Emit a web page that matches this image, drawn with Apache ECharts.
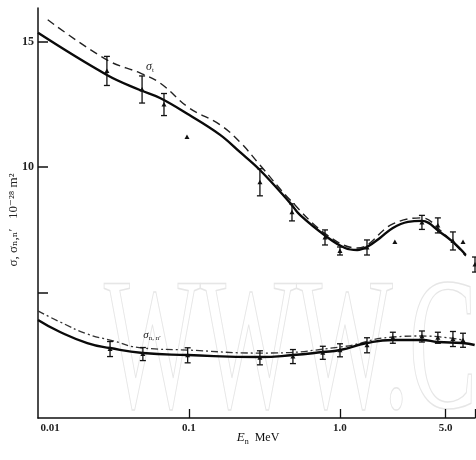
<!DOCTYPE html>
<html>
<head>
<meta charset="utf-8">
<script src="https://cdn.jsdelivr.net/npm/echarts@6/dist/echarts.min.js"></script>
<style>
  html, body { margin: 0; padding: 0; background: #fff; }
  #chart { width: 476px; height: 460px; }
</style>
</head>
<body>
<div id="chart"></div>
<script>
// Energy axis ticks (MeV) and their printed labels
const tickEnergies = [0.01, 0.1, 1.0, 5.0];
const tickLabels = ['0.01', '0.1', '1.0', '5.0'];
const axisEndEnergy = 7.84;

// Cross-section axis ticks (10^-28 m^2)
const yTicks = [5, 10, 15];
const yLabels = { 10: '10', 15: '15' };

// Calculated total cross section sigma_t (solid)
const totalCalcE = [0.01, 0.0286, 0.0473, 0.0643, 0.10, 0.16, 0.218, 0.295, 0.467, 0.543, 0.82, 1.08, 1.30, 1.51, 1.84, 2.24, 2.82, 3.49, 4.59, 5.6, 6.82];
const totalCalc  = [15.36, 13.68, 13.08, 12.76, 12.09, 11.30, 10.60, 9.89, 8.58, 8.10, 7.22, 6.78, 6.70, 6.82, 7.18, 7.58, 7.82, 7.86, 7.42, 7.02, 6.50];

// Alternative calculation of sigma_t (dashed)
const totalAltE = [0.0116, 0.0286, 0.0473, 0.0643, 0.10, 0.16, 0.218, 0.295, 0.467, 0.82, 1.30, 2.24, 3.49, 4.59, 6.82];
const totalAlt  = [15.88, 14.28, 13.76, 13.36, 12.37, 11.70, 11.00, 10.09, 8.70, 7.30, 6.78, 7.74, 7.98, 7.50, 6.46];

// Calculated sigma_n,n' (solid)
const elasCalcE = [0.01, 0.014, 0.0212, 0.030, 0.0495, 0.098, 0.295, 0.488, 0.77, 1.0, 1.51, 2.24, 3.49, 4.45, 6.5, 7.8];
const elasCalc  = [3.91, 3.43, 2.99, 2.79, 2.59, 2.51, 2.43, 2.51, 2.63, 2.71, 2.99, 3.11, 3.11, 3.03, 2.99, 2.91];

// Alternative calculation of sigma_n,n' (dash-dot)
const elasAltE = [0.01, 0.014, 0.0212, 0.030, 0.0495, 0.098, 0.295, 1.0, 2.24, 3.49, 6.5];
const elasAlt  = [4.27, 3.83, 3.35, 3.11, 2.79, 2.71, 2.59, 2.83, 3.23, 3.27, 3.11];

// Measured sigma_t with uncertainties
const totalMeasE   = [0.0286, 0.0489, 0.0683, 0.097, 0.295, 0.481, 0.796, 1.0, 1.51, 2.31, 3.49, 4.45, 5.60, 6.53, 7.84];
const totalMeas    = [13.84, 13.10, 12.50, 11.21, 9.40, 8.20, 7.20, 6.66, 6.80, 7.02, 7.80, 7.68, 7.06, 7.02, 6.12];
const totalMeasErr = [0.58, 0.54, 0.44, 0, 0.54, 0.34, 0.30, 0.16, 0.30, 0, 0.28, 0.30, 0.36, 0, 0.30];

// Measured sigma_n,n' with uncertainties
const elasMeasE   = [0.030, 0.0495, 0.098, 0.295, 0.488, 0.77, 1.0, 1.51, 2.24, 3.49, 4.45, 5.60, 6.53];
const elasMeas    = [2.75, 2.55, 2.50, 2.40, 2.45, 2.60, 2.70, 2.90, 3.20, 3.25, 3.20, 3.15, 3.10];
const elasMeasErr = [0.30, 0.26, 0.30, 0.28, 0.28, 0.26, 0.26, 0.30, 0.22, 0.22, 0.22, 0.30, 0.28];

// The energy axis is logarithmic: positions are log10(E)
const lg = Math.log10;
const pairs = (es, vs) => es.map((e, i) => [lg(e), vs[i]]);
const bars = (es, vs, errs) => es.map((e, i) => [lg(e), vs[i] - errs[i], vs[i] + errs[i], vs[i]]);

function renderErrorBar(params, api) {
  const x = api.value(0);
  const lo = api.coord([x, api.value(1)]);
  const hi = api.coord([x, api.value(2)]);
  const c = api.coord([x, api.value(3)]);
  const cap = 3;
  const st = { stroke: '#111', lineWidth: 1.3 };
  const children = [];
  if (Math.abs(hi[1] - lo[1]) > 1) {
    children.push({ type: 'line', shape: { x1: lo[0], y1: lo[1], x2: hi[0], y2: hi[1] }, style: st });
    children.push({ type: 'line', shape: { x1: lo[0] - cap, y1: lo[1], x2: lo[0] + cap, y2: lo[1] }, style: st });
    children.push({ type: 'line', shape: { x1: hi[0] - cap, y1: hi[1], x2: hi[0] + cap, y2: hi[1] }, style: st });
  }
  children.push({ type: 'polygon', shape: { points: [[c[0] - 2.5, c[1] + 2], [c[0] + 2.5, c[1] + 2], [c[0], c[1] - 2.5]] }, style: { fill: '#111' } });
  return { type: 'group', children };
}

const chart = echarts.init(document.getElementById('chart'), null, { renderer: 'canvas' });
const serif = 'Liberation Serif, DejaVu Serif, serif';
const xMax = lg(axisEndEnergy);

chart.setOption({
  animation: false,
  backgroundColor: '#fff',
  grid: { left: 38, right: 1, top: 8, bottom: 42, containLabel: false },
  xAxis: {
    type: 'value',
    min: -2,
    max: xMax,
    axisLine: { onZero: false, lineStyle: { color: '#111', width: 1.5 } },
    splitLine: { show: false },
    axisTick: {
      inside: true, length: 9,
      customValues: tickEnergies.slice(1).map(lg).concat([xMax]),
      lineStyle: { color: '#111', width: 1.3 }
    },
    axisLabel: {
      customValues: tickEnergies.map(lg),
      margin: 5,
      fontFamily: serif, fontSize: 11, fontWeight: 'bold', color: '#222',
      formatter: v => {
        const i = tickEnergies.findIndex(e => Math.abs(lg(e) - v) < 1e-6);
        if (i < 0) return '';
        return i === 0 ? '{first|' + tickLabels[i] + '}' : tickLabels[i];
      },
      rich: { first: { fontFamily: serif, fontSize: 11, fontWeight: 'bold', color: '#222', padding: [0, 0, 0, 24] } }
    }
  },
  yAxis: {
    type: 'value',
    min: 0,
    max: 16.35,
    axisLine: { show: true, onZero: false, lineStyle: { color: '#111', width: 1.5 } },
    splitLine: { show: false },
    axisTick: { show: true, inside: true, length: 10, customValues: yTicks, lineStyle: { color: '#111', width: 1.5 } },
    axisLabel: {
      customValues: [10, 15],
      margin: 4,
      fontFamily: serif, fontSize: 12, fontWeight: 'bold', color: '#222',
      formatter: v => yLabels[v] || ''
    }
  },
  graphic: [
    {
      type: 'group', x: 104, y: 452, scaleY: 1.85, z: 0, silent: true,
      children: [{
        type: 'text', x: 0, y: 0,
        style: {
          text: 'WWW.C', fontFamily: serif, fontSize: 102,
          fill: 'rgba(0,0,0,0)', stroke: '#e6e6e6', lineWidth: 0.8,
          verticalAlign: 'bottom', align: 'left'
        }
      }]
    },
    {
      type: 'text', x: 150, y: 67, z: 10,
      style: {
        text: '{s|σ}{t|t}', verticalAlign: 'middle', align: 'center',
        rich: {
          s: { fontFamily: serif, fontStyle: 'italic', fontSize: 12, fill: '#222' },
          t: { fontFamily: serif, fontSize: 7, fill: '#222', padding: [6, 0, 0, 0] }
        }
      }
    },
    {
      type: 'text', x: 152, y: 335, z: 10,
      style: {
        text: '{s|σ}{t|n, n′}', verticalAlign: 'middle', align: 'center',
        rich: {
          s: { fontFamily: serif, fontStyle: 'italic', fontSize: 11, fill: '#222' },
          t: { fontFamily: serif, fontSize: 7, fill: '#222', padding: [6, 0, 0, 0] }
        }
      }
    },
    {
      type: 'text', x: 258, y: 438, z: 10,
      style: {
        text: '{e|E}{n|n}{u|  MeV}', verticalAlign: 'middle', align: 'center',
        rich: {
          e: { fontFamily: serif, fontStyle: 'italic', fontSize: 13, fill: '#111' },
          n: { fontFamily: serif, fontSize: 8, fill: '#111', padding: [7, 0, 0, 0] },
          u: { fontFamily: serif, fontSize: 12, fill: '#111' }
        }
      }
    },
    {
      type: 'text', x: 14, y: 220, rotation: Math.PI / 2, z: 10,
      style: {
        text: 'σ, σₙ,ₙ′   10⁻²⁸ m²', verticalAlign: 'middle', align: 'center',
        fontFamily: serif, fontSize: 13, fill: '#222'
      }
    }
  ],
  series: [
    {
      type: 'line', data: pairs(totalCalcE, totalCalc), smooth: 0.4, symbol: 'none', z: 4,
      lineStyle: { color: '#0a0a0a', width: 2.4 }
    },
    {
      type: 'line', data: pairs(totalAltE, totalAlt), smooth: 0.4, symbol: 'none', z: 3,
      lineStyle: { color: '#222', width: 1.4, type: [8, 5] }
    },
    {
      type: 'line', data: pairs(elasCalcE, elasCalc), smooth: 0.5, symbol: 'none', z: 4,
      lineStyle: { color: '#0a0a0a', width: 2.4 }
    },
    {
      type: 'line', data: pairs(elasAltE, elasAlt), smooth: 0.5, symbol: 'none', z: 3,
      lineStyle: { color: '#333', width: 1.3, type: [7, 3, 2, 3] }
    },
    {
      type: 'custom', data: bars(totalMeasE, totalMeas, totalMeasErr), renderItem: renderErrorBar,
      clip: false, z: 5, encode: { x: 0, y: [1, 2, 3] }
    },
    {
      type: 'custom', data: bars(elasMeasE, elasMeas, elasMeasErr), renderItem: renderErrorBar,
      clip: false, z: 5, encode: { x: 0, y: [1, 2, 3] }
    }
  ]
});
</script>
</body>
</html>
